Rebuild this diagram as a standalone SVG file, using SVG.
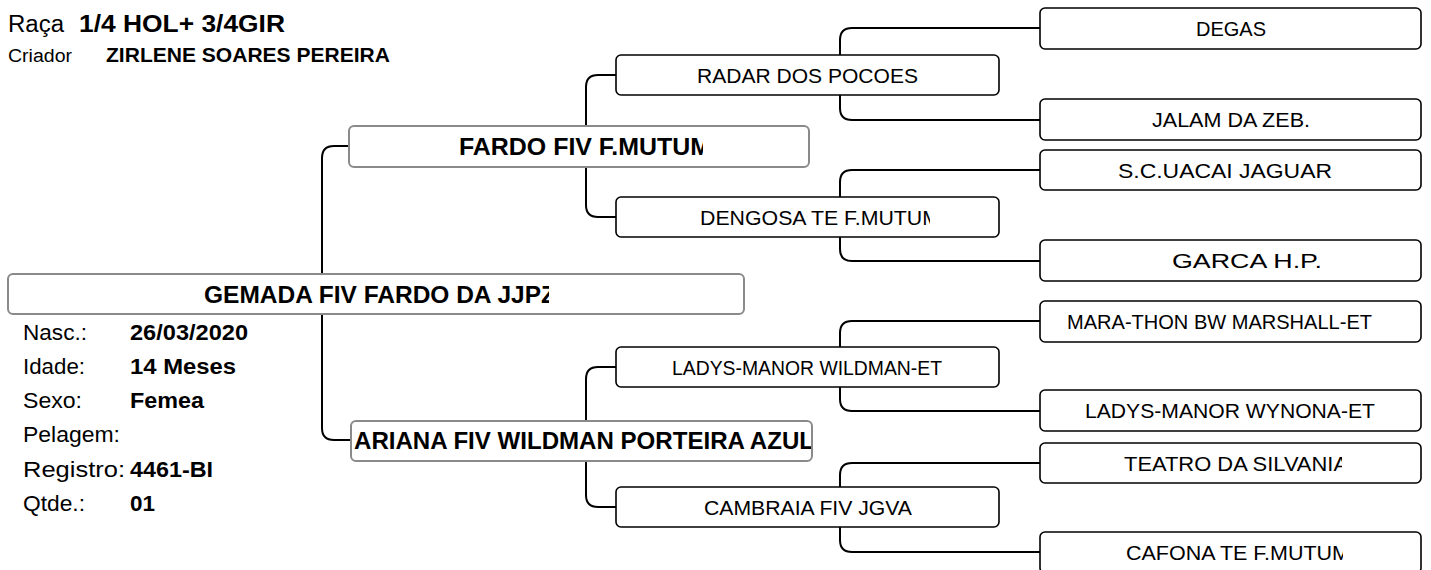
<svg xmlns="http://www.w3.org/2000/svg" width="1431" height="570" viewBox="0 0 1431 570">
<style>
text{font-family:"Liberation Sans",Arial,sans-serif;fill:#000}
.b{font-weight:bold}
.n{font-size:21px}
.g{fill:#fff;stroke:#000;stroke-width:1.6}
.p{fill:#fff;stroke:#8a8a8a;stroke-width:2}
.c{fill:none;stroke:#000;stroke-width:2}
.i{font-size:22px}
</style>
<defs>
<clipPath id="k1"><rect x="0" y="270" width="549" height="50"/></clipPath>
<clipPath id="k2"><rect x="340" y="120" width="363" height="50"/></clipPath>
<clipPath id="k3"><rect x="340" y="415" width="471" height="50"/></clipPath>
<clipPath id="k4"><rect x="610" y="190" width="320" height="50"/></clipPath>
<clipPath id="k5"><rect x="1030" y="440" width="312" height="50"/></clipPath>
<clipPath id="k6"><rect x="1030" y="528" width="313" height="45"/></clipPath>
</defs>
<rect width="1431" height="570" fill="#fff"/>
<g id="header">
<text x="8" y="32" font-size="23" textLength="56" lengthAdjust="spacingAndGlyphs">Raça</text>
<text x="79" y="32" font-size="23" class="b" textLength="206" lengthAdjust="spacingAndGlyphs">1/4 HOL+ 3/4GIR</text>
<text x="8" y="62" font-size="18" textLength="64" lengthAdjust="spacingAndGlyphs">Criador</text>
<text x="106" y="62" font-size="20" class="b" textLength="284" lengthAdjust="spacingAndGlyphs">ZIRLENE SOARES PEREIRA</text>
</g>
<g id="connectors">
<path class="c" d="M349,146 H334 Q322,146 322,158 V428 Q322,440 334,440 H351"/>
<path class="c" d="M616,75 H598 Q586,75 586,87 V205 Q586,217 598,217 H616"/>
<path class="c" d="M616,367 H598 Q586,367 586,379 V495 Q586,507 598,507 H616"/>
<path class="c" d="M1040,28 H852 Q840,28 840,40 V108 Q840,120 852,120 H1040"/>
<path class="c" d="M1040,170 H852 Q840,170 840,182 V249 Q840,261 852,261 H1040"/>
<path class="c" d="M1040,321 H852 Q840,321 840,333 V399 Q840,411 852,411 H1040"/>
<path class="c" d="M1040,463 H852 Q840,463 840,475 V540 Q840,552 852,552 H1040"/>
</g>
<g id="n-root">
<rect class="p" x="8" y="274" width="736" height="40" rx="5"/>
<text x="204" y="303" font-size="24" class="b" textLength="352" lengthAdjust="spacingAndGlyphs" clip-path="url(#k1)">GEMADA FIV FARDO DA JJPZ</text>
</g>
<g id="n-info">
<text class="i" x="23" y="340" textLength="64" lengthAdjust="spacingAndGlyphs">Nasc.:</text>
<text class="i b" x="130" y="340" textLength="118" lengthAdjust="spacingAndGlyphs">26/03/2020</text>
<text class="i" x="23" y="374" textLength="62" lengthAdjust="spacingAndGlyphs">Idade:</text>
<text class="i b" x="130" y="374" textLength="106" lengthAdjust="spacingAndGlyphs">14 Meses</text>
<text class="i" x="23" y="408" textLength="59" lengthAdjust="spacingAndGlyphs">Sexo:</text>
<text class="i b" x="130" y="408" textLength="74" lengthAdjust="spacingAndGlyphs">Femea</text>
<text class="i" x="23" y="442" textLength="97" lengthAdjust="spacingAndGlyphs">Pelagem:</text>
<text class="i" x="23" y="477" textLength="102" lengthAdjust="spacingAndGlyphs">Registro:</text>
<text class="i b" x="130" y="477" textLength="83" lengthAdjust="spacingAndGlyphs">4461-BI</text>
<text class="i" x="23" y="511" textLength="62" lengthAdjust="spacingAndGlyphs">Qtde.:</text>
<text class="i b" x="130" y="511" textLength="25" lengthAdjust="spacingAndGlyphs">01</text>
</g>
<g id="n-fardo">
<rect class="p" x="349" y="126" width="460" height="41" rx="5"/>
<text x="459" y="155" font-size="23" class="b" textLength="252" lengthAdjust="spacingAndGlyphs" clip-path="url(#k2)">FARDO FIV F.MUTUM</text>
</g>
<g id="n-ariana">
<rect class="p" x="351" y="421" width="461" height="40" rx="5"/>
<text x="354" y="449" font-size="23" class="b" textLength="460" lengthAdjust="spacingAndGlyphs" clip-path="url(#k3)">ARIANA FIV WILDMAN PORTEIRA AZUL</text>
</g>
<g id="n-radar">
<rect class="g" x="616" y="55" width="383" height="40" rx="5"/>
<text class="n" x="697" y="83" textLength="221" lengthAdjust="spacingAndGlyphs">RADAR DOS POCOES</text>
</g>
<g id="n-dengosa">
<rect class="g" x="616" y="197" width="383" height="40" rx="5"/>
<text class="n" x="700" y="225" textLength="240" lengthAdjust="spacingAndGlyphs" clip-path="url(#k4)">DENGOSA TE F.MUTUM</text>
</g>
<g id="n-wildman">
<rect class="g" x="616" y="347" width="383" height="40" rx="5"/>
<text class="n" x="672" y="375" textLength="270" lengthAdjust="spacingAndGlyphs">LADYS-MANOR WILDMAN-ET</text>
</g>
<g id="n-cambraia">
<rect class="g" x="616" y="487" width="383" height="40" rx="5"/>
<text class="n" x="704" y="515" textLength="208" lengthAdjust="spacingAndGlyphs">CAMBRAIA FIV JGVA</text>
</g>
<g id="n-degas">
<rect class="g" x="1040" y="8" width="381" height="41" rx="5"/>
<text class="n" x="1196" y="36" textLength="70" lengthAdjust="spacingAndGlyphs">DEGAS</text>
</g>
<g id="n-jalam">
<rect class="g" x="1040" y="99" width="381" height="41" rx="5"/>
<text class="n" x="1152" y="127" textLength="158" lengthAdjust="spacingAndGlyphs">JALAM DA ZEB.</text>
</g>
<g id="n-uacai">
<rect class="g" x="1040" y="150" width="381" height="40" rx="5"/>
<text class="n" x="1118" y="178" textLength="214" lengthAdjust="spacingAndGlyphs">S.C.UACAI JAGUAR</text>
</g>
<g id="n-garca">
<rect class="g" x="1040" y="240" width="381" height="41" rx="5"/>
<text class="n" x="1172" y="268" textLength="150" lengthAdjust="spacingAndGlyphs">GARCA H.P.</text>
</g>
<g id="n-marathon">
<rect class="g" x="1040" y="301" width="381" height="41" rx="5"/>
<text class="n" x="1067" y="329" textLength="305" lengthAdjust="spacingAndGlyphs">MARA-THON BW MARSHALL-ET</text>
</g>
<g id="n-wynona">
<rect class="g" x="1040" y="390" width="381" height="41" rx="5"/>
<text class="n" x="1085" y="418" textLength="290" lengthAdjust="spacingAndGlyphs">LADYS-MANOR WYNONA-ET</text>
</g>
<g id="n-teatro">
<rect class="g" x="1040" y="443" width="381" height="40" rx="5"/>
<text class="n" x="1124" y="471" textLength="224" lengthAdjust="spacingAndGlyphs" clip-path="url(#k5)">TEATRO DA SILVANIA</text>
</g>
<g id="n-cafona">
<rect class="g" x="1040" y="532" width="381" height="41" rx="5"/>
<text class="n" x="1126" y="560" textLength="224" lengthAdjust="spacingAndGlyphs" clip-path="url(#k6)">CAFONA TE F.MUTUM</text>
</g>
</svg>
